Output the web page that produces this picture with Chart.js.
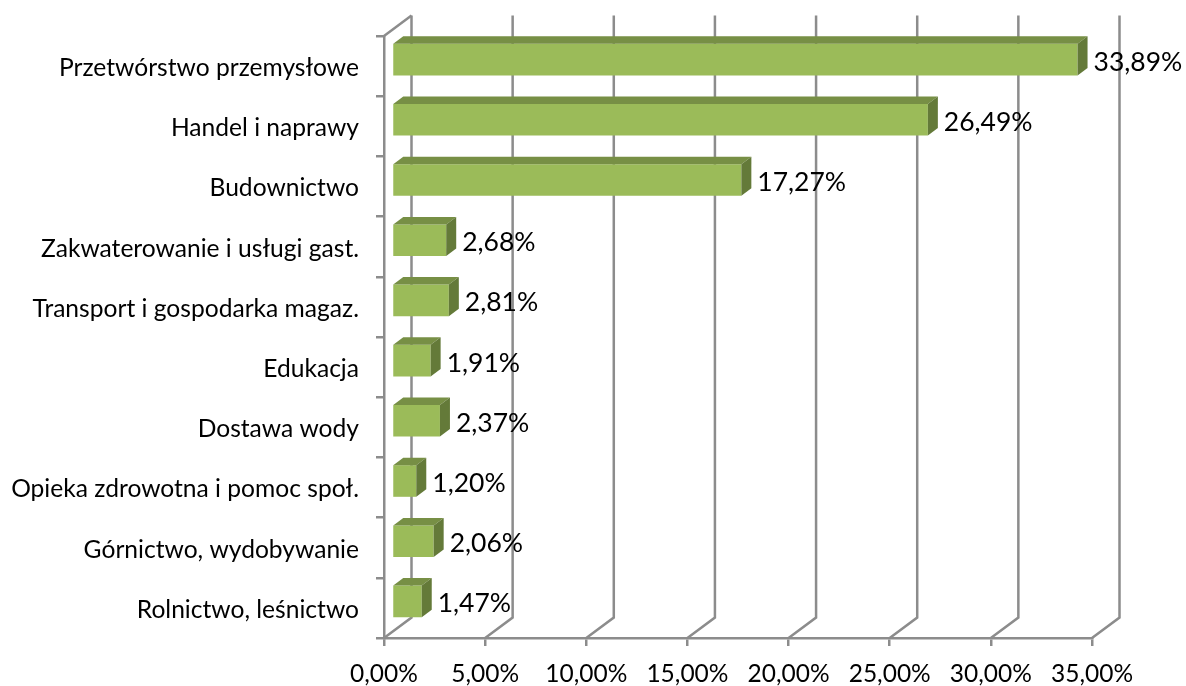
<!DOCTYPE html>
<html>
<head>
<meta charset="utf-8">
<style>
  html, body { margin: 0; padding: 0; background: #fff; }
  #wrap { width: 1186px; height: 686px; }
</style>
<script src="https://cdn.jsdelivr.net/npm/chart.js@4"></script>
</head>
<body>
<div id="wrap"><canvas id="chart"></canvas></div>
<script>
const categories = [
  "Przetwórstwo przemysłowe",
  "Handel i naprawy",
  "Budownictwo",
  "Zakwaterowanie i usługi gast.",
  "Transport i gospodarka magaz.",
  "Edukacja",
  "Dostawa wody",
  "Opieka zdrowotna i pomoc społ.",
  "Górnictwo, wydobywanie",
  "Rolnictwo, leśnictwo"
];
const shares = [33.89, 26.49, 17.27, 2.68, 2.81, 1.91, 2.37, 1.20, 2.06, 1.47];
const tickLabels = ["0,00%", "5,00%", "10,00%", "15,00%", "20,00%", "25,00%", "30,00%", "35,00%"];

const FONT = "Lato, Carlito, sans-serif";
const GRID = "#8c8c8c";
const FRONT = "#9bbb59";
const TOP = "#778f45";
const SIDE = "#647a39";

const formatShare = v => v.toFixed(2).replace(".", ",") + "%";

// fake 3D: walls behind the bars, and top/side faces on each bar
const BAR_SHIFT = { x: 8, y: -6.5 };
const BAR_DEPTH = { x: 10, y: 7.5 };
const WALL_DEPTH = { x: 27.5, y: 20.5 };

const fake3d = {
  id: "fake3d",
  beforeDatasetsDraw(chart){
    const { ctx, chartArea: a, scales: { x } } = chart;
    ctx.save();
    ctx.strokeStyle = GRID;
    ctx.lineWidth = 2.5;
    tickLabels.forEach((_, i) => {
      const px = x.getPixelForTick(i);
      ctx.beginPath();
      ctx.moveTo(px, a.bottom);
      ctx.lineTo(px + WALL_DEPTH.x, a.bottom - WALL_DEPTH.y);
      ctx.lineTo(px + WALL_DEPTH.x, a.top - WALL_DEPTH.y);
      ctx.stroke();
    });
    ctx.beginPath();
    ctx.moveTo(a.left, a.top);
    ctx.lineTo(a.left + WALL_DEPTH.x, a.top - WALL_DEPTH.y);
    ctx.stroke();
    ctx.restore();
  },
  beforeDatasetDraw(chart){
    chart.ctx.save();
    chart.ctx.translate(BAR_SHIFT.x, BAR_SHIFT.y);
  },
  afterDatasetDraw(chart, args){
    const ctx = chart.ctx;
    for (const bar of args.meta.data){
      const left = bar.base, right = bar.x;
      const top = bar.y - bar.height / 2, bottom = bar.y + bar.height / 2;
      ctx.fillStyle = TOP;
      ctx.beginPath();
      ctx.moveTo(left, top);
      ctx.lineTo(left + BAR_DEPTH.x, top - BAR_DEPTH.y);
      ctx.lineTo(right + BAR_DEPTH.x, top - BAR_DEPTH.y);
      ctx.lineTo(right, top);
      ctx.closePath();
      ctx.fill();
      ctx.fillStyle = SIDE;
      ctx.beginPath();
      ctx.moveTo(right, top);
      ctx.lineTo(right + BAR_DEPTH.x, top - BAR_DEPTH.y);
      ctx.lineTo(right + BAR_DEPTH.x, bottom - BAR_DEPTH.y);
      ctx.lineTo(right, bottom);
      ctx.closePath();
      ctx.fill();
    }
    ctx.restore();
  },
  afterDatasetsDraw(chart){
    const ctx = chart.ctx;
    ctx.save();
    ctx.font = `26.5px ${FONT}`;
    ctx.fillStyle = "#000";
    ctx.textAlign = "left";
    ctx.textBaseline = "middle";
    chart.getDatasetMeta(0).data.forEach((bar, i) => {
      ctx.fillText(formatShare(shares[i]), bar.x + BAR_SHIFT.x + 16, bar.y - 4);
    });
    ctx.restore();
  }
};

new Chart(document.getElementById("chart"), {
  type: "bar",
  data: {
    labels: categories,
    datasets: [{
      data: shares,
      backgroundColor: FRONT,
      borderWidth: 0,
      barPercentage: 0.525,
      categoryPercentage: 1,
      clip: false
    }]
  },
  options: {
    indexAxis: "y",
    responsive: true,
    maintainAspectRatio: false,
    animation: false,
    layout: { padding: { top: 36, right: 94, left: 0, bottom: 0 } },
    plugins: { legend: { display: false }, tooltip: { enabled: false } },
    scales: {
      x: {
        min: 0,
        max: 35,
        afterFit(scale){ scale.height = 48; },
        ticks: {
          stepSize: 5,
          maxRotation: 0,
          color: "#000",
          padding: 13,
          font: { family: FONT, size: 24.5 },
          callback: (v, i) => tickLabels[i]
        },
        grid: { drawOnChartArea: false, drawTicks: true, tickLength: 8, color: GRID, lineWidth: 2.5 },
        border: { color: GRID, width: 2.5 }
      },
      y: {
        afterFit(scale){ scale.width = 384; },
        ticks: {
          autoSkip: false,
          color: "#000",
          padding: 17,
          labelOffset: 2,
          font: { family: FONT, size: 24.6 }
        },
        grid: { offset: true, drawOnChartArea: false, drawTicks: true, tickLength: 8, color: GRID, lineWidth: 2.5 },
        border: { color: GRID, width: 2.5 }
      }
    }
  },
  plugins: [fake3d]
});
</script>
</body>
</html>
